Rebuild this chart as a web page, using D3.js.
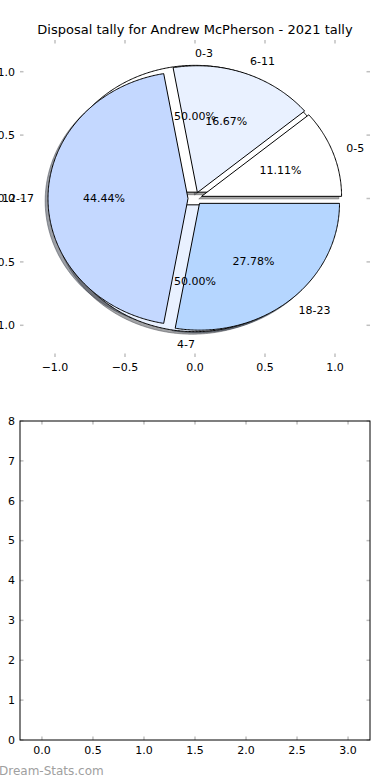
<!DOCTYPE html>
<html><head><meta charset="utf-8">
<script src="https://cdn.jsdelivr.net/npm/d3@7/dist/d3.min.js"></script>
<style>body{margin:0;background:#fff}svg{display:block;font-family:"DejaVu Sans",sans-serif}</style>
</head><body>
<script>
// ---- data ----
const title = "Disposal tally for Andrew McPherson - 2021 tally";
const categories = ["0-5", "6-11", "12-17", "18-23"];
const values = [2, 3, 8, 5];
const colors = ["#ffffff", "#e9f1ff", "#c4d8ff", "#b5d6ff"];
const categories2 = ["0-3", "4-7"];
const values2 = [1, 1];
const colors2 = ["#ffffff", "#e9f1ff"];
const pieTicks = [-1.0, -0.5, 0.0, 0.5, 1.0];
const barXTicks = [0.0, 0.5, 1.0, 1.5, 2.0, 2.5, 3.0];
const barYTicks = [0, 1, 2, 3, 4, 5, 6, 7, 8];
const watermark = "Dream-Stats.com";

const W = 390, H = 780;
const svg = d3.select("body").append("svg").attr("width", W).attr("height", H);

// ---- top pie axes ----
const ax1 = {l: 20, r: 370, t: 40, b: 357};
const x1 = d3.scaleLinear().domain([-1.25, 1.25]).range([ax1.l, ax1.r]);
const y1 = d3.scaleLinear().domain([-1.25, 1.25]).range([ax1.b, ax1.t]);
const explode = 0.05, radius = 1, fmt = d3.format(".2f");

svg.append("text").attr("x", W / 2).attr("y", 34).attr("text-anchor", "middle")
  .attr("font-size", 13).text(title);

const tickCol = "#c0c0c0";
const g1 = svg.append("g");
pieTicks.forEach(v => {
  g1.append("line").attr("x1", x1(v)).attr("x2", x1(v)).attr("y1", ax1.t).attr("y2", ax1.t + 3.5).attr("stroke", tickCol).attr("stroke-width", 1.5);
  g1.append("line").attr("x1", x1(v)).attr("x2", x1(v)).attr("y1", ax1.b).attr("y2", ax1.b - 3.5).attr("stroke", tickCol).attr("stroke-width", 1.5);
  g1.append("line").attr("y1", y1(v)).attr("y2", y1(v)).attr("x1", ax1.l).attr("x2", ax1.l + 3.5).attr("stroke", tickCol).attr("stroke-width", 1.5);
  g1.append("line").attr("y1", y1(v)).attr("y2", y1(v)).attr("x1", ax1.r).attr("x2", ax1.r - 3.5).attr("stroke", tickCol).attr("stroke-width", 1.5);
  g1.append("text").attr("x", x1(v)).attr("y", ax1.b + 14).attr("text-anchor", "middle").attr("font-size", 11).text(d3.format(".1f")(v).replace("-", "\u2212"));
  g1.append("text").attr("x", ax1.l - 5).attr("y", y1(v)).attr("dy", "0.35em").attr("text-anchor", "end").attr("font-size", 11).text(d3.format(".1f")(v).replace("-", "\u2212"));
});

const pieGen = d3.pie().sort(null).startAngle(0).endAngle(2 * Math.PI);
const line1 = d3.line().x(p => x1(p[0])).y(p => y1(p[1]));
function wedgePts(a0, a1, cx, cy) {
  const n = Math.max(4, Math.ceil((a1 - a0) / 0.01));
  const pts = [[cx, cy]];
  for (let i = 0; i <= n; i++) {
    const a = a0 + (a1 - a0) * i / n;
    pts.push([cx + radius * Math.cos(a), cy + radius * Math.sin(a)]);
  }
  pts.push([cx, cy]);
  return pts;
}
function layout(vals) {
  return pieGen(vals).map(d => {
    const mid = (d.startAngle + d.endAngle) / 2;
    return {d, mid, cx: explode * Math.cos(mid), cy: explode * Math.sin(mid), pct: 100 * (d.endAngle - d.startAngle) / (2 * Math.PI)};
  });
}
const L1 = layout(values), L2 = layout(values2);

function shade(c) {
  const r = d3.rgb(c);
  return `rgba(${Math.round(r.r * 0.3)},${Math.round(r.g * 0.3)},${Math.round(r.b * 0.3)},0.5)`;
}
const shadowG = g1.append("g");
[[L2, colors2], [L1, colors]].forEach(([L, cols]) => {
  L.forEach((w, i) => {
    shadowG.append("path").attr("d", line1(wedgePts(w.d.startAngle, w.d.endAngle, w.cx - 0.02, w.cy - 0.02)))
      .attr("fill", shade(cols[i])).attr("stroke", shade(cols[i])).attr("stroke-width", 1);
  });
});
[[L2, colors2], [L1, colors]].forEach(([L, cols]) => {
  L.forEach((w, i) => {
    g1.append("path").attr("d", line1(wedgePts(w.d.startAngle, w.d.endAngle, w.cx, w.cy)))
      .attr("fill", cols[i]).attr("stroke", "#000").attr("stroke-width", 1).attr("stroke-linejoin", "miter");
  });
});
[[L1, categories], [L2, categories2]].forEach(([L, cats]) => {
  L.forEach((w, i) => {
    const lx = w.cx + 1.1 * radius * Math.cos(w.mid), ly = w.cy + 1.1 * radius * Math.sin(w.mid);
    g1.append("text").attr("x", x1(lx)).attr("y", y1(ly)).attr("dy", "0.35em")
      .attr("text-anchor", lx > 0 ? "start" : "end").attr("font-size", 11).text(cats[i]);
    const px = w.cx + 0.6 * radius * Math.cos(w.mid), py = w.cy + 0.6 * radius * Math.sin(w.mid);
    g1.append("text").attr("x", x1(px)).attr("y", y1(py)).attr("dy", "0.35em")
      .attr("text-anchor", "middle").attr("font-size", 11).text(fmt(w.pct) + "%");
  });
});

// ---- bottom empty axes ----
const ax2 = {l: 20, r: 370, t: 421, b: 740};
const x2 = d3.scaleLinear().domain([-0.215, 3.215]).range([ax2.l, ax2.r]);
const y2 = d3.scaleLinear().domain([0, 8]).range([ax2.b, ax2.t]);
const g2 = svg.append("g");
barXTicks.forEach(v => {
  g2.append("line").attr("x1", x2(v)).attr("x2", x2(v)).attr("y1", ax2.b).attr("y2", ax2.b - 3.5).attr("stroke", tickCol).attr("stroke-width", 1.5);
  g2.append("line").attr("x1", x2(v)).attr("x2", x2(v)).attr("y1", ax2.t).attr("y2", ax2.t + 3.5).attr("stroke", tickCol).attr("stroke-width", 1.5);
  g2.append("text").attr("x", x2(v)).attr("y", ax2.b + 14).attr("text-anchor", "middle").attr("font-size", 11).text(d3.format(".1f")(v));
});
barYTicks.forEach(v => {
  g2.append("line").attr("y1", y2(v)).attr("y2", y2(v)).attr("x1", ax2.l).attr("x2", ax2.l + 3.5).attr("stroke", tickCol).attr("stroke-width", 1.5);
  g2.append("line").attr("y1", y2(v)).attr("y2", y2(v)).attr("x1", ax2.r).attr("x2", ax2.r - 3.5).attr("stroke", tickCol).attr("stroke-width", 1.5);
  g2.append("text").attr("x", ax2.l - 5).attr("y", y2(v)).attr("dy", "0.35em").attr("text-anchor", "end").attr("font-size", 11).text(v);
});
g2.append("rect").attr("x", ax2.l).attr("y", ax2.t).attr("width", ax2.r - ax2.l).attr("height", ax2.b - ax2.t)
  .attr("fill", "none").attr("stroke", "#000").attr("stroke-width", 1);

svg.append("text").attr("x", -1).attr("y", 775).attr("font-size", 12)
  .attr("fill", "#a0a0a0").text(watermark);
</script>
</body></html>
